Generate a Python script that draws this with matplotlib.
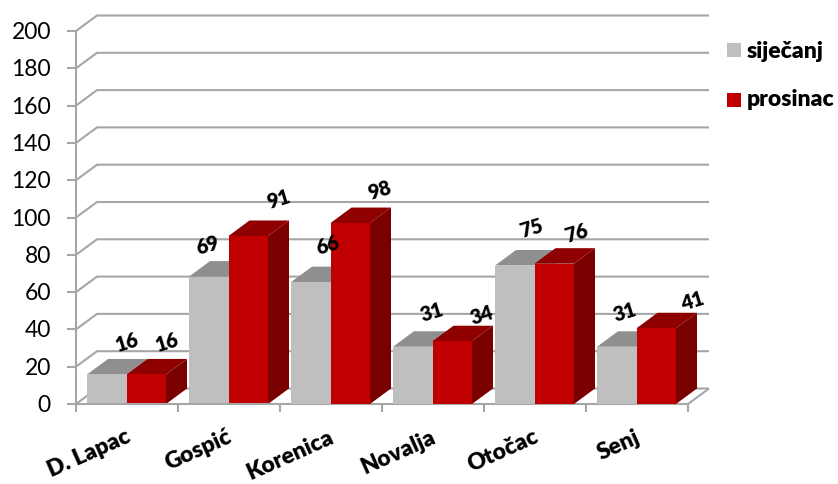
import matplotlib
matplotlib.use("Agg")
import matplotlib.pyplot as plt
from matplotlib.patches import Polygon, Rectangle

plt.rcParams['font.family'] = ['Lato', 'DejaVu Sans']

# data
categories = ["D. Lapac", "Gospić", "Korenica", "Novalja", "Otočac", "Senj"]
sijecanj = [16, 69, 66, 31, 75, 31]
prosinac = [16, 91, 98, 34, 76, 41]
y_ticks = [0, 20, 40, 60, 80, 100, 120, 140, 160, 180, 200]

# hand placed label offsets in the original chart (pixels from bar top left)
off_sij = [(40, 32), (19, 31), (37, 37), (39, 34), (36, 37), (28, 34)]
off_pro = [(41, 32), (50, 37), (49, 33), (49, 26), (42, 30), (56, 27)]

grey, grey_top = "#bfbfbf", "#8f8f8f"
red, red_top, red_side = "#c00000", "#8f0000", "#7a0000"
line_col = "#a6a6a6"

W, H = 838, 484
fig = plt.figure(figsize=(W / 100, H / 100), dpi=100)
ax = fig.add_axes([76 / W, (H - 404) / H, 612 / W, 373 / H])
ax.set_xlim(0, 6)
ax.set_ylim(0, 200)
ax.axis("off")

# depth of the fake 3d box in data units
px_x = 6 / 612
px_y = 200 / 373
dep_x = 21 * px_x
dep_y = 15.5 * px_y
bar_w = 39.5 * px_x
bar_start = 11 * px_x
bar_scale = 0.99  # bars sit a little under the grid in the original


def ln(xs, ys, z=1):
    ax.plot(xs, ys, color=line_col, lw=1.5, zorder=z, clip_on=False, solid_capstyle="butt")


# back wall, grid lines
for t in y_ticks:
    ln([0, dep_x, 6 + dep_x], [t, t + dep_y, t + dep_y])
    ln([-9 * px_x, 0], [t, t], 2)
    ax.annotate(str(t), (0, t), xytext=(-25 * 0.72, -1.5 * 0.72), textcoords="offset points", ha="right",
                va="center", fontsize=16.5, color="black", annotation_clip=False)

ln([0, 0], [0, 200], 2)
ln([6, 6 + dep_x], [0, dep_y])
ln([0, 6], [0, 0], 5)
for i in range(7):
    ln([i, i], [0, -8 * px_y], 5)


def box(x, val, front, top, side, z):
    val = val * bar_scale
    ax.add_patch(Polygon([(x + bar_w, 0), (x + bar_w + dep_x, dep_y), (x + bar_w + dep_x, val + dep_y),
                          (x + bar_w, val)], fc=side, ec="none", zorder=z, clip_on=False))
    ax.add_patch(Polygon([(x, val), (x + dep_x, val + dep_y), (x + bar_w + dep_x, val + dep_y),
                          (x + bar_w, val)], fc=top, ec="none", zorder=z, clip_on=False))
    ax.add_patch(Rectangle((x, 0), bar_w, val, fc=front, ec="none", zorder=z + 0.1, clip_on=False))


for i in range(len(categories)):
    x0 = i + bar_start
    x1 = x0 + bar_w
    box(x0, sijecanj[i], grey, grey_top, grey, 3 + i)
    box(x1, prosinac[i], red, red_top, red_side, 3.3 + i)

    ax.annotate(str(sijecanj[i]), (x0, sijecanj[i] * bar_scale), xytext=(off_sij[i][0] * 0.72, off_sij[i][1] * 0.72),
                textcoords="offset points", ha="center", va="center", rotation=17, fontsize=14.5,
                fontweight="heavy", color="black", zorder=20, annotation_clip=False)
    ax.annotate(str(prosinac[i]), (x1, prosinac[i] * bar_scale), xytext=(off_pro[i][0] * 0.72, off_pro[i][1] * 0.72),
                textcoords="offset points", ha="center", va="center", rotation=17, fontsize=14.5,
                fontweight="heavy", color="black", zorder=20, annotation_clip=False)

    ax.annotate(categories[i], (i + 0.5, 0), xytext=(2 * 0.72, -32 * 0.72), textcoords="offset points",
                ha="right", va="center", rotation=24, rotation_mode="anchor", fontsize=16.5,
                fontweight="heavy", color="black", annotation_clip=False)

# legend
fig.patches.append(Rectangle((727 / W, (H - 57) / H), 14 / W, 14 / H, fc=grey, ec="none", transform=fig.transFigure))
fig.patches.append(Rectangle((727 / W, (H - 107) / H), 14 / W, 14 / H, fc=red, ec="none", transform=fig.transFigure))
fig.text(747 / W, (H - 51) / H, "siječanj", fontsize=16.5, fontweight="heavy", va="center", color="black")
fig.text(747 / W, (H - 100) / H, "prosinac", fontsize=16.5, fontweight="heavy", va="center", color="black")

fig.savefig("out.png", dpi=100)
